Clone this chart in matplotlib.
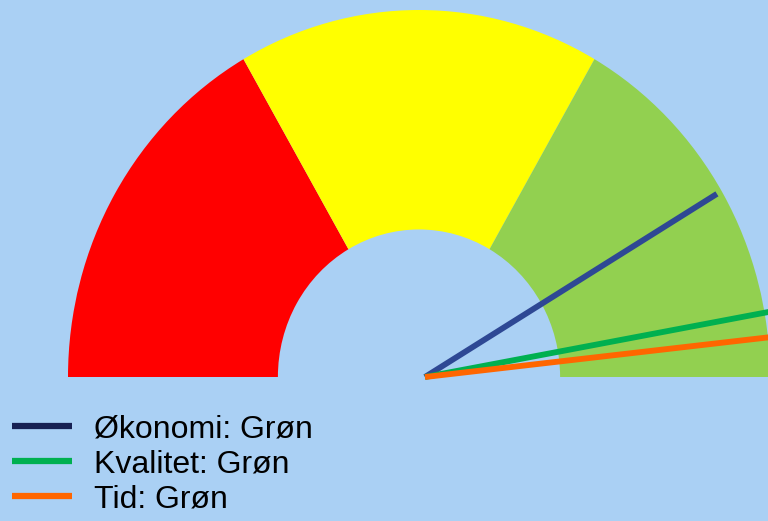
import numpy as np
import matplotlib
matplotlib.use("Agg")
import matplotlib.pyplot as plt
from matplotlib.patches import Wedge
from matplotlib.lines import Line2D

# gauge zones, scale 0-100 (0 = left, 100 = right)
zone_names = ["Rød", "Gul", "Grøn"]
zone_bounds = [0, 100 / 3, 200 / 3, 100]
zone_colors = ["#ff0000", "#ffff00", "#92d050"]

# needles
needle_labels = ["Økonomi: Grøn", "Kvalitet: Grøn", "Tid: Grøn"]
needle_scores = [82.8, 94.3, 96.5]
needle_lengths = [0.97, 1.02, 1.02]
needle_colors = ["#2e4894", "#00b050", "#ff6600"]
legend_colors = ["#172052", "#00b050", "#ff6600"]

BG = "#aad0f4"


def score_to_angle(score):
    return 180.0 * (1 - score / 100.0)


def main():
    fig = plt.figure(figsize=(7.68, 5.21), dpi=100, facecolor=BG)
    ax = fig.add_axes([0, 0, 1, 1])
    ax.set_facecolor(BG)

    r_outer = 1.0
    r_inner = 0.402
    for lo, hi, col in zip(zone_bounds[:-1], zone_bounds[1:], zone_colors):
        ax.add_patch(Wedge((0, 0), r_outer, score_to_angle(hi), score_to_angle(lo),
                           width=r_outer - r_inner, facecolor=col, edgecolor="none"))

    pivot = (0.017, 0.0)
    for score, length, col in zip(needle_scores, needle_lengths, needle_colors):
        a = np.deg2rad(score_to_angle(score))
        ax.plot([pivot[0], pivot[0] + length * np.cos(a)],
                [pivot[1], pivot[1] + length * np.sin(a)],
                color=col, lw=4.2, solid_capstyle="butt")

    # keep the slightly tall look of the original gauge
    ax.set_xlim(-419 / 351, (768 - 419) / 351)
    ax.set_ylim(-(521 - 377) / 367, 377 / 367)
    ax.set_aspect("auto")
    ax.axis("off")

    handles = [Line2D([], [], color=c, lw=4.5, solid_capstyle="butt") for c in legend_colors]
    fig.legend(handles, needle_labels, loc="upper left",
               bbox_to_anchor=(12 / 768, 1 - 414 / 521),
               frameon=False, prop={"family": "Liberation Sans", "size": 23},
               handlelength=1.88, handletextpad=0.68, labelspacing=0.16,
               borderpad=0, borderaxespad=0)

    fig.savefig("out.png", dpi=100, facecolor=BG)


if __name__ == "__main__":
    main()
